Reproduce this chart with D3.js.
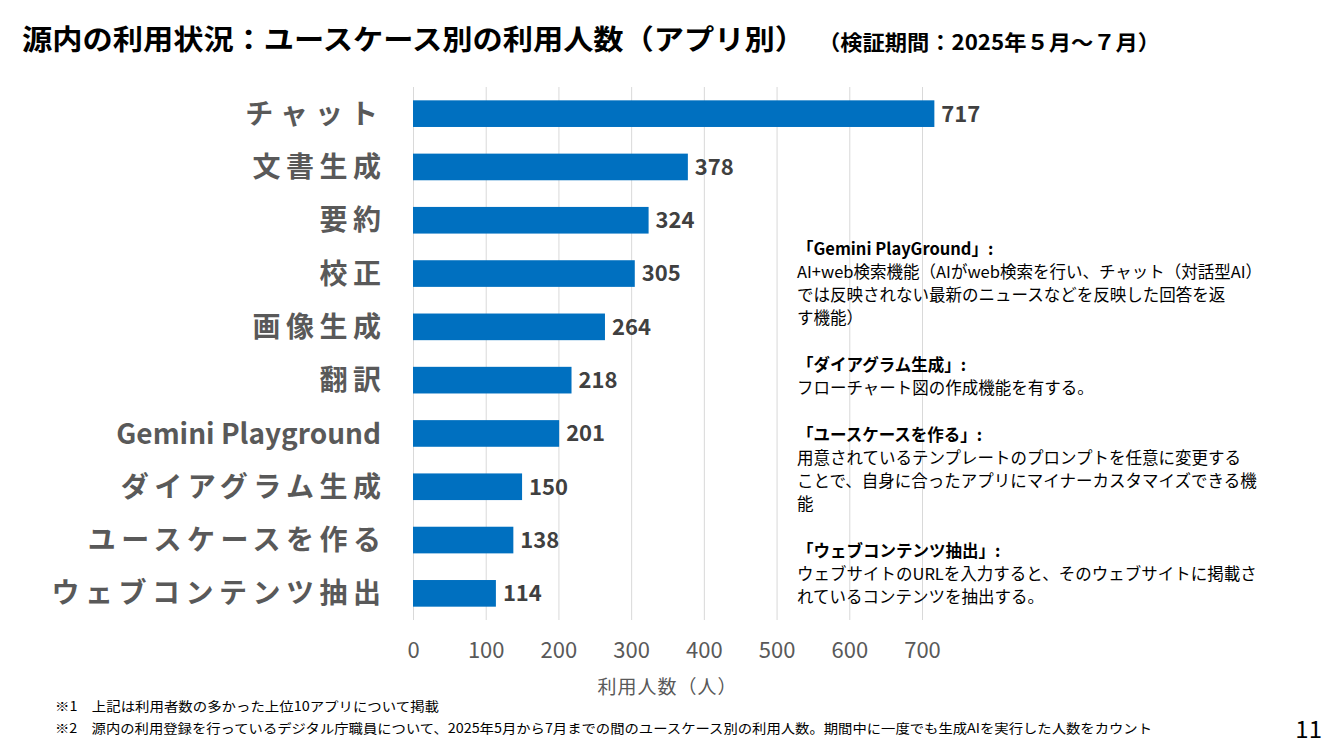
<!DOCTYPE html>
<html>
<head>
<meta charset="utf-8">
<script src="https://cdn.jsdelivr.net/npm/d3@7"></script>
<style>
  body { margin: 0; background: #fff; }
  svg text { font-family: "Noto Sans CJK JP", "Noto Sans", sans-serif; }
</style>
</head>
<body>
<script>
var categories = ["チャット", "文書生成", "要約", "校正", "画像生成", "翻訳",
  "Gemini Playground", "ダイアグラム生成", "ユースケースを作る", "ウェブコンテンツ抽出"];
var values = [717, 378, 324, 305, 264, 218, 201, 150, 138, 114];
var xTicks = [0, 100, 200, 300, 400, 500, 600, 700];

var noteHeads = ["「Gemini PlayGround」:", "「ダイアグラム生成」:", "「ユースケースを作る」:", "「ウェブコンテンツ抽出」:"];
var noteBodies = [
  ["AI+web検索機能（AIがweb検索を行い、チャット（対話型AI）", "では反映されない最新のニュースなどを反映した回答を返", "す機能）"],
  ["フローチャート図の作成機能を有する。"],
  ["用意されているテンプレートのプロンプトを任意に変更する", "ことで、自身に合ったアプリにマイナーカスタマイズできる機", "能"],
  ["ウェブサイトのURLを入力すると、そのウェブサイトに掲載さ", "れているコンテンツを抽出する。"]
];
var footnotes = [
  "※1　上記は利用者数の多かった上位10アプリについて掲載",
  "※2　源内の利用登録を行っているデジタル庁職員について、2025年5月から7月までの間のユースケース別の利用人数。期間中に一度でも生成AIを実行した人数をカウント"
];

var w = 1334, h = 750;
var margin = {top: 87, left: 413};
var width = 509;   // 0..700
var height = 533;

var svg = d3.select("body").append("svg")
  .attr("width", w)
  .attr("height", h);

// title
svg.append("text")
  .attr("x", 22).attr("y", 50)
  .attr("font-size", 28).attr("font-weight", "bold").attr("fill", "#000")
  .attr("textLength", 783).attr("lengthAdjust", "spacingAndGlyphs")
  .text("源内の利用状況：ユースケース別の利用人数（アプリ別）");
svg.append("text")
  .attr("x", 818).attr("y", 50)
  .attr("font-size", 21).attr("font-weight", "bold").attr("fill", "#000")
  .attr("textLength", 342).attr("lengthAdjust", "spacingAndGlyphs")
  .text("（検証期間：2025年５月～７月）");

var x = d3.scaleLinear().domain([0, 700]).range([0, width]);
var y = d3.scaleBand().domain(categories).range([0, height]).paddingInner(0.5).paddingOuter(0.25);

var chart = svg.append("g")
  .attr("transform", "translate(" + margin.left + "," + margin.top + ")");

// gridlines
chart.append("g")
  .classed("gridline", true)
  .call(d3.axisBottom(x).tickValues(xTicks).tickSize(height).tickFormat(""))
  .call(function(g){
    g.select(".domain").remove();
    g.selectAll("line").attr("stroke", "#d9d9d9").attr("stroke-width", 1);
  });

// bars
chart.selectAll(".bar")
  .data(values)
  .enter()
    .append("rect")
    .classed("bar", true)
    .attr("x", 0)
    .attr("y", function(d, i){ return y(categories[i]); })
    .attr("width", function(d){ return x(d); })
    .attr("height", y.bandwidth())
    .style("fill", "#0070c0");

chart.selectAll(".bar-label")
  .data(values)
  .enter()
    .append("text")
    .classed("bar-label", true)
    .attr("x", function(d){ return x(d) + 7; })
    .attr("y", function(d, i){ return y(categories[i]) + y.bandwidth() / 2; })
    .attr("dy", "0.36em")
    .attr("font-size", 22).attr("font-weight", "bold").attr("fill", "#404040")
    .text(function(d){ return d; });

// category axis
chart.append("g")
  .classed("y axis", true)
  .call(d3.axisLeft(y).tickSize(0).tickPadding(32))
  .call(function(g){
    g.select(".domain").remove();
    g.selectAll("text")
      .attr("font-size", 28).attr("font-weight", "bold").attr("fill", "#595959")
      .attr("letter-spacing", function(d){ return /^[A-Za-z]/.test(d) ? 0 : (d === "チャット" ? 7 : 5.5); })
      .attr("dx", function(d){ return /^[A-Za-z]/.test(d) ? 0 : (d === "チャット" ? 4 : 5.5); })
      .attr("dy", "0.36em");
  });

// value axis
chart.append("g")
  .classed("x axis", true)
  .attr("transform", "translate(0," + height + ")")
  .call(d3.axisBottom(x).tickValues(xTicks).tickSize(0).tickPadding(22))
  .call(function(g){
    g.select(".domain").remove();
    g.selectAll("text").attr("font-size", 22).attr("fill", "#595959").attr("font-family", "Roboto, 'Noto Sans', sans-serif");
  });

chart.append("text")
  .attr("x", x(350)).attr("y", height + 74)
  .attr("text-anchor", "middle")
  .attr("font-size", 19).attr("fill", "#595959")
  .attr("letter-spacing", 1)
  .text("利用人数（人）");

// notes
var noteY = [255, 371, 441, 557];
var notes = svg.append("g").attr("transform", "translate(797,0)");
noteHeads.forEach(function(head, i){
  notes.append("text")
    .attr("x", 0).attr("y", noteY[i])
    .attr("font-size", 16.5).attr("font-weight", "bold").attr("fill", "#000")
    .text(head);
  noteBodies[i].forEach(function(line, j){
    notes.append("text")
      .attr("x", 0).attr("y", noteY[i] + 23 * (j + 1))
      .attr("font-size", 16.5).attr("fill", "#000")
      .text(line);
  });
});

// footnotes
svg.append("text")
  .attr("x", 55).attr("y", 711)
  .attr("font-size", 13).attr("fill", "#000")
  .attr("textLength", 384).attr("lengthAdjust", "spacingAndGlyphs")
  .text(footnotes[0]);
svg.append("text")
  .attr("x", 55).attr("y", 733)
  .attr("font-size", 13).attr("fill", "#000")
  .attr("textLength", 1097).attr("lengthAdjust", "spacingAndGlyphs")
  .text(footnotes[1]);

svg.append("text")
  .attr("x", 1322).attr("y", 738)
  .attr("text-anchor", "end")
  .attr("font-size", 24).attr("fill", "#000")
  .attr("font-family", "'Liberation Sans Narrow', 'Liberation Sans', sans-serif")
  .text("11");
</script>
</body>
</html>
